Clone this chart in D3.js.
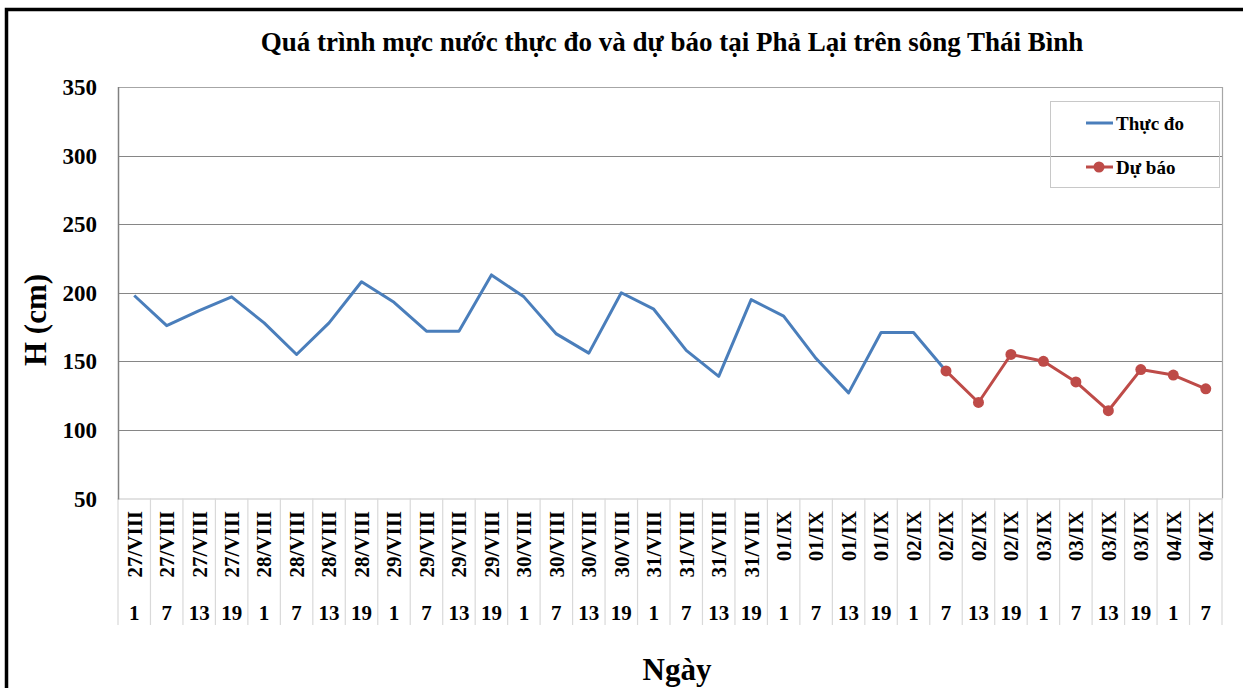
<!DOCTYPE html>
<html>
<head>
<meta charset="utf-8">
<script src="https://cdn.jsdelivr.net/npm/d3@7"></script>
<style>
  html, body { margin: 0; padding: 0; background: #fff; }
  svg { display: block; }
  text { font-family: "Liberation Serif", "Times New Roman", serif; font-weight: bold; fill: #000; }
</style>
</head>
<body>
<svg id="chart" width="1243" height="688"></svg>
<script>
// ---- Data ----
const dateLabels = [
  "27/VIII","27/VIII","27/VIII","27/VIII",
  "28/VIII","28/VIII","28/VIII","28/VIII",
  "29/VIII","29/VIII","29/VIII","29/VIII",
  "30/VIII","30/VIII","30/VIII","30/VIII",
  "31/VIII","31/VIII","31/VIII","31/VIII",
  "01/IX","01/IX","01/IX","01/IX",
  "02/IX","02/IX","02/IX","02/IX",
  "03/IX","03/IX","03/IX","03/IX",
  "04/IX","04/IX"
];
const hourLabels = [
  "1","7","13","19", "1","7","13","19", "1","7","13","19",
  "1","7","13","19", "1","7","13","19", "1","7","13","19",
  "1","7","13","19", "1","7","13","19", "1","7"
];
// Thực đo (observed) – indices 0..25
const thucDo = [198,176,187,197,178,155,178,208,193,172,172,213,197,170,156,200,188,158,139,195,183,152,127,171,171,143,
  null,null,null,null,null,null,null,null];
// Dự báo (forecast) – indices 25..33
const duBao = [null,null,null,null,null,null,null,null,null,null,null,null,null,null,null,null,null,null,null,null,null,null,null,null,null,
  143,120,155,150,135,114,144,140,130];
const yTicks = [50,100,150,200,250,300,350];

const title = "Quá trình mực nước thực đo và dự báo tại Phả Lại trên sông Thái Bình";
const seriesNames = ["Thực đo", "Dự báo"];
const colors = ["#4a7ebb", "#be4b48"];

// ---- Layout ----
const svg = d3.select("#chart");
const pL = 118, pR = 1222, pT = 87, pB = 498.5;

const idx = d3.range(dateLabels.length);
const x = d3.scaleBand().domain(idx).range([pL, pR]).padding(0);
const y = d3.scaleLinear().domain([50, 350]).range([pB, pT]);
const cx = i => x(i) + x.bandwidth() / 2;

// outer border
svg.append("rect").attr("x", 6.5).attr("y", 9.5).attr("width", 1400).attr("height", 900)
  .attr("fill", "none").attr("stroke", "#000").attr("stroke-width", 3.5);

// title
svg.append("text").attr("x", 672).attr("y", 51).attr("text-anchor", "middle")
  .style("font-size", "27px").text(title);

// gridlines
svg.append("g").selectAll("line").data(yTicks.filter(t => t > 50 && t < 350)).join("line")
  .attr("x1", pL).attr("x2", pR).attr("y1", d => Math.round(y(d)) + 0.5).attr("y2", d => Math.round(y(d)) + 0.5)
  .attr("stroke", "#868686").attr("stroke-width", 1.2);

// plot border (top/right)
svg.append("path").attr("d", `M${pL},${pT + 0.5}H${pR + 0.5}V${pB}`)
  .attr("fill", "none").attr("stroke", "#a6a6a6").attr("stroke-width", 1.2);

// category dividers
svg.append("g").selectAll("line").data(d3.range(dateLabels.length + 1)).join("line")
  .attr("x1", i => (i < dateLabels.length ? x(i) : pR)).attr("x2", i => (i < dateLabels.length ? x(i) : pR))
  .attr("y1", pB).attr("y2", 625)
  .attr("stroke", "#d9d9d9").attr("stroke-width", 1.2);

// x axis line
svg.append("line").attr("x1", pL).attr("x2", pR + 0.5).attr("y1", pB + 0.5).attr("y2", pB + 0.5)
  .attr("stroke", "#d9d9d9").attr("stroke-width", 1.5);

// y axis line
svg.append("line").attr("x1", pL + 0.5).attr("x2", pL + 0.5).attr("y1", pT).attr("y2", pB + 1)
  .attr("stroke", "#808080").attr("stroke-width", 1.5);

// y tick labels
svg.append("g").selectAll("text").data(yTicks).join("text")
  .attr("x", 97).attr("y", d => y(d)).attr("dy", "0.35em").attr("text-anchor", "end")
  .style("font-size", "23px").text(d => d);

// date labels (rotated)
svg.append("g").selectAll("text").data(idx).join("text")
  .attr("transform", i => `translate(${cx(i)},511) rotate(-90)`)
  .attr("text-anchor", "end").attr("dy", "0.35em")
  .style("font-size", "21px").text(i => dateLabels[i]);

// hour labels
svg.append("g").selectAll("text").data(idx).join("text")
  .attr("x", i => cx(i)).attr("y", 620).attr("text-anchor", "middle")
  .style("font-size", "21px").text(i => hourLabels[i]);

// axis titles
svg.append("text").attr("transform", "translate(46,320) rotate(-90)").attr("text-anchor", "middle")
  .style("font-size", "31px").text("H (cm)");
svg.append("text").attr("x", 677).attr("y", 680).attr("text-anchor", "middle")
  .style("font-size", "31px").text("Ngày");

// series lines
const line = d3.line().defined(d => d != null).x((d, i) => cx(i)).y(d => y(d));
svg.append("path").datum(thucDo).attr("d", line).attr("fill", "none")
  .attr("stroke", colors[0]).attr("stroke-width", 3).attr("stroke-linejoin", "round");
svg.append("path").datum(duBao).attr("d", line).attr("fill", "none")
  .attr("stroke", colors[1]).attr("stroke-width", 3).attr("stroke-linejoin", "round");
svg.append("g").selectAll("circle").data(duBao.map((v, i) => ({v, i})).filter(d => d.v != null)).join("circle")
  .attr("cx", d => cx(d.i)).attr("cy", d => y(d.v)).attr("r", 5.5).attr("fill", colors[1]);

// legend
const lg = svg.append("g");
lg.append("rect").attr("x", 1050.5).attr("y", 101.5).attr("width", 169).attr("height", 86)
  .attr("fill", "none").attr("stroke", "#c8c8c8").attr("stroke-width", 1);
lg.append("line").attr("x1", 1086).attr("x2", 1113).attr("y1", 123).attr("y2", 123)
  .attr("stroke", colors[0]).attr("stroke-width", 3);
lg.append("text").attr("x", 1116).attr("y", 123).attr("dy", "0.35em").style("font-size", "19px").text(seriesNames[0]);
lg.append("line").attr("x1", 1086).attr("x2", 1113).attr("y1", 167).attr("y2", 167)
  .attr("stroke", colors[1]).attr("stroke-width", 3);
lg.append("circle").attr("cx", 1099).attr("cy", 167).attr("r", 5.5).attr("fill", colors[1]);
lg.append("text").attr("x", 1116).attr("y", 167).attr("dy", "0.35em").style("font-size", "19px").text(seriesNames[1]);
</script>
</body>
</html>
